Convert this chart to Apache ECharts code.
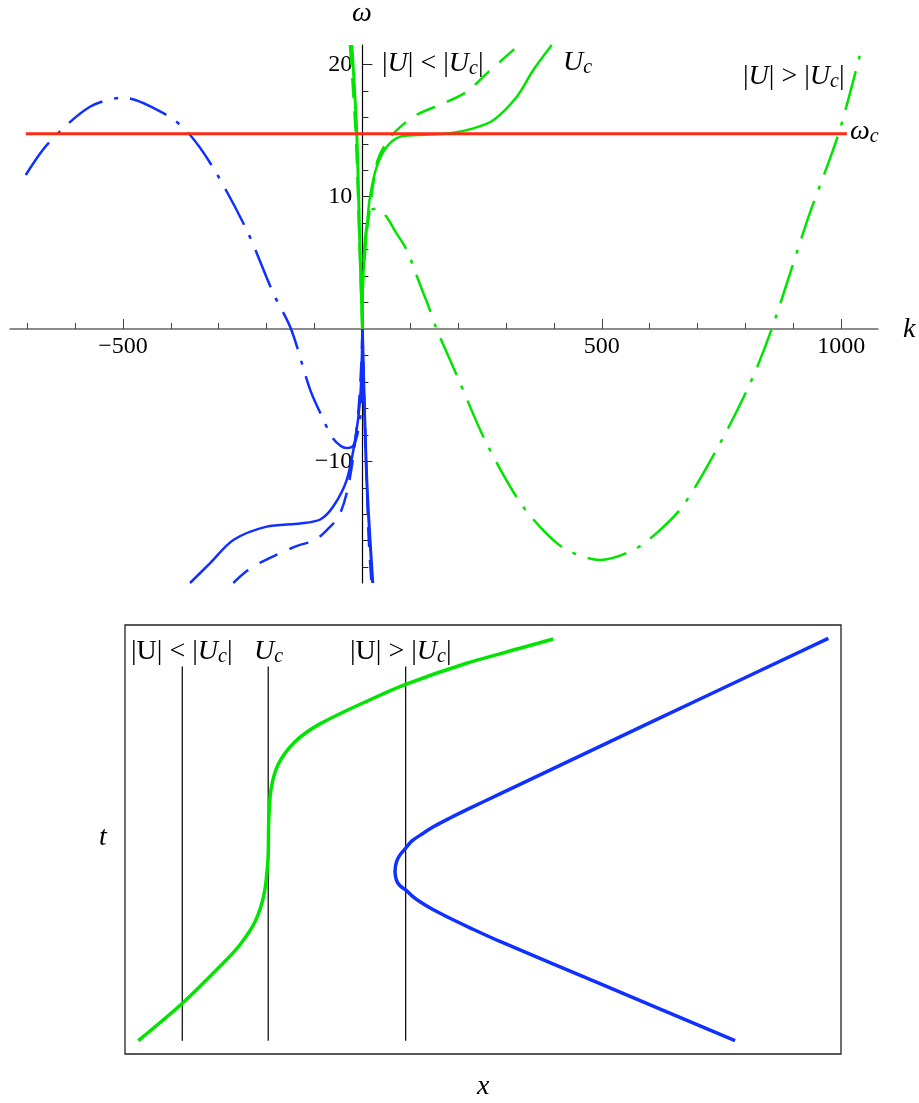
<!DOCTYPE html>
<html>
<head>
<meta charset="utf-8">
<script src="https://cdn.jsdelivr.net/npm/echarts@6/dist/echarts.min.js"></script>
<style>
  html, body { margin: 0; padding: 0; background: #fff; }
  #main { width: 919px; height: 1103px; }
</style>
</head>
<body>
<div id="main"></div>
<script>
  // ---- top panel: omega(k) ----
  const kRange = [-736, 1077];
  const wRange = [-19.2, 21.47];
  const omegaC = 14.76;
  const redLine = [[-703, omegaC], [1012, omegaC]];

  const xMajorTicks = [-500, 500, 1000];
  const xMinorTicks = [-700, -600, -500, -400, -300, -200, -100, 100, 200, 300, 400, 500, 600, 700, 800, 900, 1000];
  const yMajorTicks = [-10, 10, 20];
  const yMinorTicks = [-18, -16, -14, -12, -10, -8, -6, -4, -2, 2, 4, 6, 8, 10, 12, 14, 16, 18, 20];

  // green branches
  const greenSolid = [[0, 0], [0.6, 2.5], [2, 4.2], [5.6, 5.7], [10, 8], [16, 10.0], [30, 12.27], [51, 13.78],
    [79, 14.54], [113.6, 14.66], [183, 14.8], [232, 15.17], [274, 15.8], [322.6, 17.56], [357, 19.58], [395.6, 21.47]];
  const greenDashed = [[0, 0], [1, 3], [4, 5.8], [12.5, 8.24], [30, 12.5], [47, 13.9], [72, 15.04], [113.6, 16.2],
    [169, 17.05], [218, 17.94], [260, 19.33], [315.5, 21.1], [325, 21.47]];
  const greenDashDot = [[0, 0], [2, 4.5], [8, 7.6], [19.5, 9.0], [32, 9.1], [50, 8.5], [70, 7.3], [92.7, 5.97],
    [120, 3.4], [141, 1.44], [155, 0], [197, -3.48], [256, -8.39], [326, -12.93], [380, -15.3], [427, -16.7],
    [496.6, -17.46], [566, -16.7], [618.5, -15.3], [671, -13.3], [747, -8.64], [810, -4.1], [855, 0],
    [932, 8.49], [994.6, 14.76], [1040, 20.84]];
  const greenSteep = [[0, 0], [-5, 6], [-11.7, 14.8], [-22, 21.47]];
  const greenSteepDashed = [[0, 0], [-6, 6.5], [-14, 14.8], [-26, 21.47]];

  // blue branches
  const blueSolid = [[-360, -19.2], [-318, -17.7], [-269.5, -15.95], [-200, -14.94], [-130, -14.7], [-88, -14.4],
    [-60.6, -13.4], [-32.6, -11.4], [-15.3, -8.4], [-4.8, -5.4], [-1, -2], [0, 0]];
  const blueDashed = [[-269.5, -19.2], [-241.6, -18.3], [-210, -17.6], [-140.6, -16.45], [-98.8, -15.95],
    [-74.4, -15.2], [-50, -14.2], [-32.6, -12.4], [-18.8, -9.6], [-8.3, -6.2], [-2, -2.5], [0, 0]];
  const blueDashDot = [[-703, 11.64], [-656, 14.03], [-569, 16.8], [-499, 17.48], [-409, 16.18], [-362, 14.76],
    [-311, 12.15], [-241.6, 7.48], [-186, 2.7], [-149, 0], [-109, -4.6], [-81, -6.88], [-64, -8.14],
    [-45, -8.85], [-32.6, -9.0], [-18.8, -8.8], [-8.3, -7.6], [-1.3, -5.1], [0, 0]];
  const blueSteep = [[0, 0], [9.2, -11.4], [21.7, -19.2]];
  const blueSteepDashed = [[0, 0], [12.5, -15.2], [19, -19.2]];

  // ---- bottom panel: rays x(t) ----
  const guideX = [0.8, 2.0, 3.92];
  const guideT = [0.186, 5.42];
  const rayGreen = [[0.186, 0.186], [0.806, 0.713], [1.373, 1.272], [1.606, 1.528], [1.816, 1.849], [1.941, 2.228],
    [1.997, 2.718], [2.008, 3.275], [2.039, 3.696], [2.137, 4.045], [2.374, 4.366], [2.723, 4.617],
    [3.468, 4.976], [3.92, 5.171], [4.772, 5.465], [5.517, 5.674], [5.982, 5.804]];
  const rayBlue = [[9.823, 5.814], [8.031, 4.965], [6.634, 4.302], [6.075, 4.036], [5.517, 3.772], [5.237, 3.639],
    [4.818, 3.438], [4.539, 3.3], [4.306, 3.177], [4.12, 3.058], [4.008, 2.981], [3.92, 2.879], [3.841, 2.785],
    [3.792, 2.688], [3.771, 2.552], [3.792, 2.429], [3.841, 2.352], [3.92, 2.296], [4.008, 2.212], [4.12, 2.129],
    [4.306, 2.017], [4.539, 1.898], [4.818, 1.765], [5.237, 1.574], [6.634, 0.983], [8.52, 0.186]];

  const GREEN = '#00e400';
  const BLUE = '#1030ff';
  const RED = '#ff2a12';
  const SERIF = '"Liberation Serif", "Times New Roman", serif';
  const dashDot = [40, 12, 4, 12];
  const dashed = [20, 13];

  // top grid box, axes crossing at (0, 0)
  const topBox = { left: 10, top: 45, width: 868, height: 538 };
  const zeroX = topBox.width * (0 - kRange[0]) / (kRange[1] - kRange[0]);
  const zeroY = topBox.height * (wRange[1] - 0) / (wRange[1] - wRange[0]);

  const myChart = echarts.init(document.getElementById('main'));

  function curve(data, color, type, width, grid) {
    return {
      type: 'line',
      xAxisIndex: grid ? 2 : 0,
      yAxisIndex: grid ? 2 : 0,
      data: data,
      symbol: 'none',
      smooth: 0.3,
      silent: true,
      lineStyle: { color: color, width: width, type: type }
    };
  }

  const minus = v => String(v).replace('-', '\u2212');

  const rich = {
    r: { fontFamily: SERIF, fontSize: 28, lineHeight: 30, fill: '#000' },
    i: { fontFamily: SERIF, fontSize: 28, fontStyle: 'italic', lineHeight: 30, fill: '#000' },
    s: { fontFamily: SERIF, fontSize: 20, fontStyle: 'italic', lineHeight: 12, verticalAlign: 'bottom', fill: '#000' }
  };
  function label(x, y, text) {
    return {
      type: 'text', x: x, y: y, silent: true,
      style: { text: text, rich: rich, textAlign: 'left', textVerticalAlign: 'middle' }
    };
  }

  const series = [];
  series.push(curve(greenSteepDashed, GREEN, dashed, 2.5));
  series.push(curve(greenSteep, GREEN, 'solid', 3));
  series.push(curve(greenDashDot, GREEN, dashDot, 2.5));
  series.push(curve(greenDashed, GREEN, dashed, 2.5));
  series.push(curve(greenSolid, GREEN, 'solid', 2.5));
  series.push(curve(blueSteepDashed, BLUE, dashed, 2.5));
  series.push(curve(blueSteep, BLUE, 'solid', 3));
  series.push(curve(blueDashDot, BLUE, dashDot, 2.5));
  series.push(curve(blueDashed, BLUE, dashed, 2.5));
  series.push(curve(blueSolid, BLUE, 'solid', 2.5));
  series.push(Object.assign(curve(redLine, RED, 'solid', 3), { smooth: false }));
  guideX.forEach(function (gx) {
    series.push(Object.assign(curve([[gx, guideT[0]], [gx, guideT[1]]], '#000', 'solid', 1.2, 1), { smooth: false }));
  });
  series.push(curve(rayGreen, GREEN, 'solid', 3.5, 1));
  series.push(curve(rayBlue, BLUE, 'solid', 3.5, 1));

  const xBase = {
    gridIndex: 0, type: 'value', min: kRange[0], max: kRange[1], position: 'bottom',
    offset: -(topBox.height - zeroY), splitLine: { show: false }
  };
  const yBase = {
    gridIndex: 0, type: 'value', min: wRange[0], max: wRange[1], position: 'left',
    offset: -zeroX, splitLine: { show: false }
  };

  const option = {
    animation: false,
    backgroundColor: '#fff',
    grid: [
      Object.assign({ outerBoundsMode: 'none', containLabel: false }, topBox),
      { left: 125, top: 625, width: 716, height: 429, show: true, borderColor: '#222', borderWidth: 1.3,
        outerBoundsMode: 'none', containLabel: false }
    ],
    xAxis: [
      Object.assign({}, xBase, {
        axisLine: { onZero: false, lineStyle: { color: '#666', width: 1.5 } },
        axisTick: { inside: true, length: 10, customValues: xMajorTicks, lineStyle: { color: '#444' } },
        axisLabel: { customValues: xMajorTicks, formatter: minus, margin: 6, color: '#000', fontSize: 24, fontFamily: SERIF }
      }),
      Object.assign({}, xBase, {
        axisLine: { show: false, onZero: false },
        axisTick: { inside: true, length: 6, customValues: xMinorTicks, lineStyle: { color: '#444' } },
        axisLabel: { show: false }
      }),
      { gridIndex: 1, type: 'value', min: 0, max: 10, show: false, splitLine: { show: false } }
    ],
    yAxis: [
      Object.assign({}, yBase, {
        axisLine: { onZero: false, lineStyle: { color: '#000', width: 1.2 } },
        axisTick: { inside: true, length: 10, customValues: yMajorTicks, lineStyle: { color: '#222' } },
        axisLabel: { customValues: yMajorTicks, formatter: minus, margin: 10, color: '#000', fontSize: 24, fontFamily: SERIF }
      }),
      Object.assign({}, yBase, {
        axisLine: { show: false, onZero: false },
        axisTick: { inside: true, length: 6, customValues: yMinorTicks, lineStyle: { color: '#222' } },
        axisLabel: { show: false }
      }),
      { gridIndex: 1, type: 'value', min: 0, max: 6, show: false, splitLine: { show: false } }
    ],
    graphic: [
      label(352, 14, '{i|\u03c9}'),
      label(903, 330, '{i|k}'),
      label(382, 64, '{r||}{i|U}{r|| < |}{i|U}{s|c}{r||}'),
      label(563, 63, '{i|U}{s|c}'),
      label(743, 77, '{r||}{i|U}{r|| > |}{i|U}{s|c}{r||}'),
      label(850, 132, '{i|\u03c9}{s|c}'),
      label(131, 652, '{r||U| < |}{i|U}{s|c}{r||}'),
      label(254, 652, '{i|U}{s|c}'),
      label(350, 652, '{r||U| > |}{i|U}{s|c}{r||}'),
      label(99, 838, '{i|t}'),
      label(477, 1087, '{i|x}')
    ],
    series: series
  };
  myChart.setOption(option);
</script>
</body>
</html>
